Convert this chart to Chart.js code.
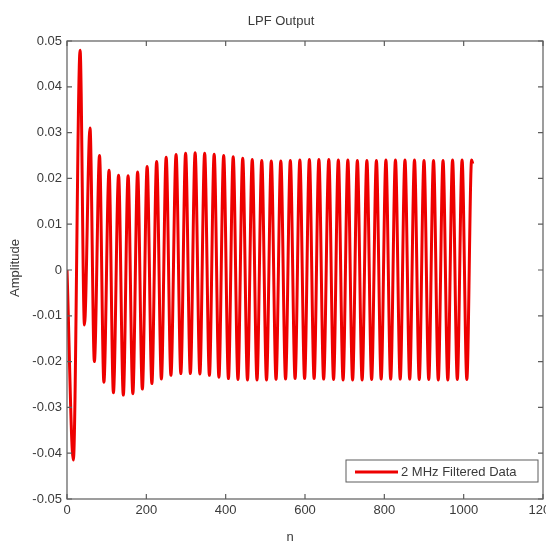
<!DOCTYPE html>
<html>
<head>
<meta charset="utf-8">
<script src="https://cdn.jsdelivr.net/npm/chart.js@4/dist/chart.umd.min.js"></script>
<style>
  html, body { margin: 0; padding: 0; background: #fff; }
  #wrap { width: 546px; height: 547px; }
</style>
</head>
<body>
<div id="wrap"><canvas id="lpfChart" width="546" height="547"></canvas></div>
<script>
// peaks and troughs of the filtered signal (n, amplitude)
const startPoint = [0, 0.0];
const peakN = [33, 58, 82, 106, 130, 154, 178, 202, 226, 250, 275, 299, 323, 347, 371, 395, 419, 443, 467, 491,
               515, 539, 563, 587, 611, 635, 660, 684, 708, 732, 756, 780, 804, 828, 852, 876, 900, 924, 948, 972, 996, 1020];
const peakAmp = [0.048, 0.031, 0.025, 0.0218, 0.0207, 0.0206, 0.0214, 0.0226, 0.0237, 0.0246, 0.0252, 0.0255, 0.0256, 0.0255,
                 0.0253, 0.025, 0.0247, 0.0244, 0.0241, 0.0239, 0.0238, 0.0238, 0.0239, 0.024, 0.0241, 0.0241, 0.0241, 0.024,
                 0.024, 0.0239, 0.0239, 0.0239, 0.024, 0.024, 0.024, 0.024, 0.0239, 0.0239, 0.0239, 0.024, 0.024, 0.024];
const troughN = [16, 44, 69, 93, 117, 142, 166, 190, 214, 238, 262, 287, 311, 335, 359, 383, 407, 431, 455, 479, 503,
                 527, 551, 575, 599, 623, 647, 672, 696, 720, 744, 768, 792, 816, 840, 864, 888, 912, 936, 960, 984, 1008];
const troughAmp = [-0.0415, -0.012, -0.020, -0.0245, -0.0268, -0.0273, -0.027, -0.026, -0.0248, -0.0238, -0.023, -0.0226,
                   -0.0226, -0.0227, -0.023, -0.0234, -0.0237, -0.0239, -0.024, -0.024, -0.024, -0.0239, -0.0238, -0.0237,
                   -0.0237, -0.0237, -0.0238, -0.0239, -0.024, -0.024, -0.024, -0.0239, -0.0238, -0.0238, -0.0238, -0.0238,
                   -0.0239, -0.0239, -0.024, -0.024, -0.0239, -0.0239];
const endPoint = [1023, 0.0232];

const xTicks = [0, 200, 400, 600, 800, 1000, 1200];
const yTicks = [-0.05, -0.04, -0.03, -0.02, -0.01, 0, 0.01, 0.02, 0.03, 0.04, 0.05];

const seriesLabel = "2 MHz Filtered Data";
const chartTitle = "LPF Output";
const xTitle = "n";
const yTitle = "Amplitude";

let points = [{ x: startPoint[0], y: startPoint[1] }];
peakN.forEach((n, i) => points.push({ x: n, y: peakAmp[i] }));
troughN.forEach((n, i) => points.push({ x: n, y: troughAmp[i] }));
points.push({ x: endPoint[0], y: endPoint[1] });
points.sort((a, b) => a.x - b.x);

const axisColor = "#5c5c5c";
const textColor = "#3a3a3a";
const fontFamily = "'Liberation Sans Narrow', 'Liberation Sans', Arial, sans-serif";

// draws the matlab style box, inward ticks, titles and legend
const matlabAxes = {
    id: "matlabAxes",
    afterDraw(chart) {
        const ctx = chart.ctx;
        const a = chart.chartArea;
        const xs = chart.scales.x;
        const ys = chart.scales.y;
        ctx.save();
        ctx.strokeStyle = axisColor;
        ctx.lineWidth = 1.2;
        ctx.strokeRect(a.left, a.top, a.right - a.left, a.bottom - a.top);

        ctx.beginPath();
        xTicks.forEach(v => {
            let px = xs.getPixelForValue(v);
            ctx.moveTo(px, a.bottom); ctx.lineTo(px, a.bottom - 5);
            ctx.moveTo(px, a.top); ctx.lineTo(px, a.top + 5);
        });
        yTicks.forEach(v => {
            let py = ys.getPixelForValue(v);
            ctx.moveTo(a.left, py); ctx.lineTo(a.left + 5, py);
            ctx.moveTo(a.right, py); ctx.lineTo(a.right - 5, py);
        });
        ctx.stroke();

        // titles
        ctx.fillStyle = textColor;
        ctx.font = "13px " + fontFamily;
        ctx.textAlign = "center";
        ctx.textBaseline = "middle";
        ctx.fillText(chartTitle, 281, 21);
        ctx.fillText(xTitle, 290, 537);
        ctx.save();
        ctx.translate(15, 268);
        ctx.rotate(-Math.PI / 2);
        ctx.fillText(yTitle, 0, 0);
        ctx.restore();

        // legend box
        const lx = 346, ly = 460, lw = 192, lh = 22;
        ctx.fillStyle = "#fff";
        ctx.fillRect(lx, ly, lw, lh);
        ctx.strokeStyle = axisColor;
        ctx.lineWidth = 1;
        ctx.strokeRect(lx, ly, lw, lh);
        ctx.strokeStyle = chart.data.datasets[0].borderColor;
        ctx.lineWidth = 3;
        ctx.beginPath();
        ctx.moveTo(lx + 9, ly + 12);
        ctx.lineTo(lx + 52, ly + 12);
        ctx.stroke();
        ctx.fillStyle = textColor;
        ctx.textAlign = "left";
        ctx.fillText(chart.data.datasets[0].label, lx + 55, ly + 12);
        ctx.restore();
    }
};

new Chart(document.getElementById("lpfChart"), {
    type: "line",
    data: {
        datasets: [{
            label: seriesLabel,
            data: points,
            borderColor: "rgb(238, 0, 0)",
            borderWidth: 3,
            pointRadius: 0,
            fill: false,
            cubicInterpolationMode: "monotone"
        }]
    },
    options: {
        responsive: false,
        animation: false,
        layout: { padding: { top: 41, right: 3, left: 0, bottom: 0 } },
        plugins: {
            legend: { display: false },
            title: { display: false },
            tooltip: { enabled: false }
        },
        scales: {
            x: {
                type: "linear",
                min: 0,
                max: 1200,
                grid: { display: false, drawTicks: false },
                border: { display: false },
                afterBuildTicks: scale => { scale.ticks = xTicks.map(v => ({ value: v })); },
                afterFit: scale => { scale.height = 48; scale.paddingLeft = 0; scale.paddingRight = 0; },
                ticks: {
                    padding: 4,
                    color: textColor,
                    font: { family: fontFamily, size: 13 },
                    maxRotation: 0,
                    autoSkip: false,
                    callback: v => String(v)
                }
            },
            y: {
                min: -0.05,
                max: 0.05,
                grid: { display: false, drawTicks: false },
                border: { display: false },
                afterBuildTicks: scale => { scale.ticks = yTicks.map(v => ({ value: v })); },
                afterFit: scale => { scale.width = 67; scale.paddingTop = 0; scale.paddingBottom = 0; },
                ticks: {
                    padding: 5,
                    color: textColor,
                    font: { family: fontFamily, size: 13 },
                    autoSkip: false,
                    callback: v => String(Number(v.toFixed(2)))
                }
            }
        }
    },
    plugins: [matlabAxes]
});
</script>
</body>
</html>
